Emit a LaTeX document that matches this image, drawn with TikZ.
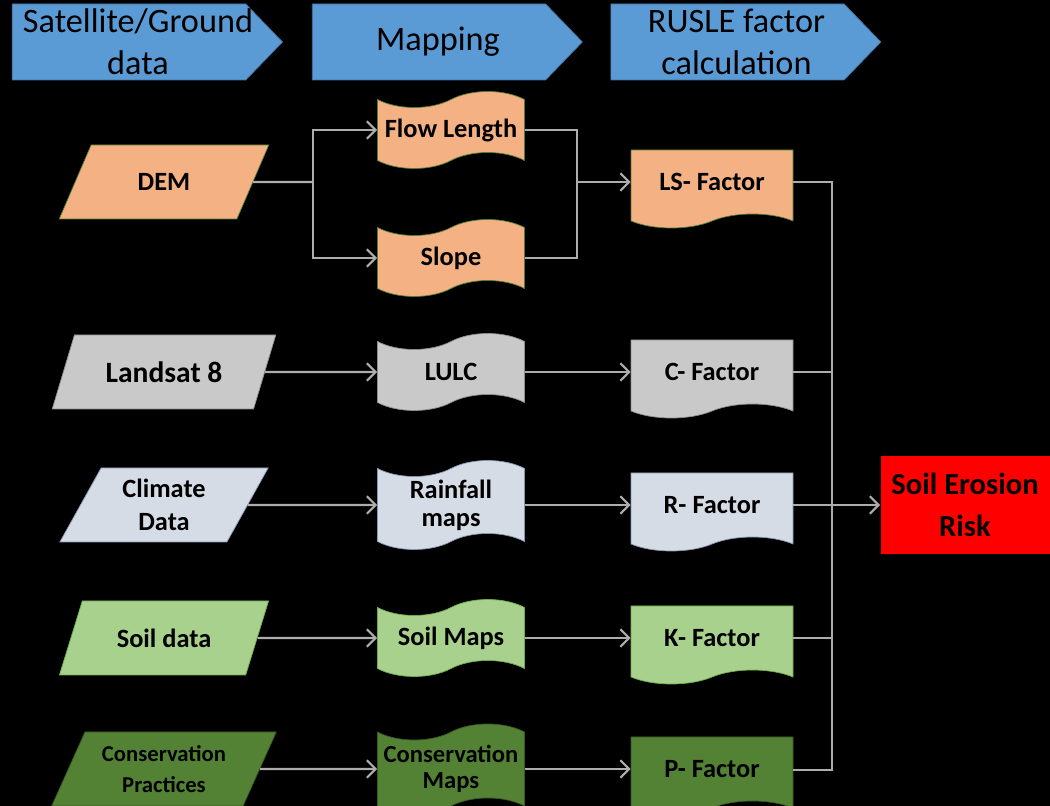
\documentclass[tikz,border=0pt]{standalone}
\usepackage{fontspec}
\setmainfont{Carlito}
\usetikzlibrary{shapes,arrows.meta}
\definecolor{hdrblue}{HTML}{5B9BD5}
\definecolor{hdrline}{HTML}{41719C}
\definecolor{orangefill}{HTML}{F4B183}
\definecolor{orangeline}{HTML}{507E32}
\definecolor{grayfill}{HTML}{C9C9C9}
\definecolor{grayline}{HTML}{8C8C8C}
\definecolor{bluefill}{HTML}{D6DCE5}
\definecolor{blueline}{HTML}{8497B0}
\definecolor{lgreenfill}{HTML}{A9D18E}
\definecolor{lgreenline}{HTML}{70AD47}
\definecolor{dgreenfill}{HTML}{548235}
\definecolor{dgreenline}{HTML}{385723}
\definecolor{linegray}{HTML}{ADADAD}
\newcommand{\hdrline}[1]{\hspace*{0.18cm}#1\hspace*{-0.18cm}}

\begin{document}
\begin{tikzpicture}
\tikzset{
header/.style={signal, signal to=east, signal pointer angle=92, fill=hdrblue, draw=hdrline, thin,
minimum width=5.4cm, minimum height=1.52cm, inner sep=1pt, align=center,
font=\fontsize{19.5}{24}\selectfont, node distance=6cm},
input/.style={trapezium, trapezium left angle=64, trapezium right angle=116, trapezium stretches=true,
minimum width=4.2cm, minimum height=1.48cm, align=center, font=\bfseries\fontsize{15}{19}\selectfont},
mapnode/.style={tape, tape bend height=0.32cm, minimum width=2.94cm, minimum height=1.54cm, inner sep=1pt,
align=center, font=\bfseries\fontsize{15}{16}\selectfont, node distance=5.74cm},
factor/.style={tape, tape bend top=none, tape bend bottom=in and out, tape bend height=0.28cm,
minimum width=3.24cm, minimum height=1.56cm, align=center, font=\bfseries\fontsize{15}{16}\selectfont,
node distance=5.22cm},
riskbox/.style={rectangle, fill=red, minimum width=3.38cm, minimum height=1.96cm, align=center,
font=\bfseries\fontsize{17.4}{24}\selectfont, node distance=5.06cm},
myline/.style={draw=linegray, line width=1.3pt},
myarrow/.style={myline, -{Straight Barb[length=5pt, width=10pt, line width=1.2pt]}},
}

\fill[black] (0,0) rectangle (21,-16.12);
\useasboundingbox (0,0) rectangle (21,-16.12);

% headers
\node [header] (hsat) at (2.58,-0.84) {\hdrline{Satellite/Ground}\\\hdrline{data}};
\node [header, right of=hsat] (hmap) {\hdrline{Mapping}};
\node [header, right of=hmap, node distance=5.97cm] (hrusle) {\hdrline{RUSLE factor}\\\hdrline{calculation}};

% input data
\node [input, fill=orangefill, draw=orangeline] (dem) at (3.28,-3.64) {DEM};
\node [input, fill=grayfill, draw=grayline, minimum width=4.5cm, font=\bfseries\fontsize{16.8}{19}\selectfont,
below of=dem, node distance=3.8cm] (landsat) {Landsat 8};
\node [input, fill=bluefill, draw=blueline, below of=landsat, node distance=2.66cm] (climate) {Climate\\Data};
\node [input, fill=lgreenfill, draw=lgreenline, below of=climate, node distance=2.66cm] (soil) {Soil data};
\node [input, fill=dgreenfill, draw=dgreenline, minimum width=4.5cm, font=\bfseries\fontsize{12.9}{17.5}\selectfont,
below of=soil, node distance=2.62cm] (conserv) {Conservation\\Practices};

% maps
\node [mapnode, fill=grayfill, draw=grayline, right of=landsat] (lulc) {LULC};
\node [mapnode, fill=orangefill, draw=orangeline, above of=lulc, node distance=2.28cm] (slope) {Slope};
\node [mapnode, fill=orangefill, draw=orangeline, above of=slope, node distance=2.56cm] (flowlen) {Flow Length};
\node [mapnode, fill=bluefill, draw=blueline, minimum height=1.78cm, right of=climate] (rainfall) {Rainfall\\maps};
\node [mapnode, fill=lgreenfill, draw=lgreenline, right of=soil] (soilmaps) {Soil Maps};
\node [mapnode, fill=dgreenfill, draw=dgreenline, minimum height=1.8cm, font=\bfseries\fontsize{14}{15}\selectfont,
right of=conserv] (conservmaps) {Conservation\\Maps};

% RUSLE factors
\node [factor, fill=orangefill, draw=orangeline, right of=dem, node distance=10.96cm] (lsfac) {LS- Factor};
\node [factor, fill=grayfill, draw=grayline, right of=lulc] (cfac) {C- Factor};
\node [factor, fill=bluefill, draw=blueline, right of=rainfall] (rfac) {R- Factor};
\node [factor, fill=lgreenfill, draw=lgreenline, right of=soilmaps] (kfac) {K- Factor};
\node [factor, fill=dgreenfill, draw=dgreenline, right of=conservmaps] (pfac) {P- Factor};

\node [riskbox, right of=rfac] (risk) {Soil Erosion\\Risk};

\coordinate (split) at (6.26,-3.64);
\coordinate (merge) at (11.54,-3.64);
\coordinate (busend) at (16.64,-15.4);

\draw[myline] (dem.east) -- (split);
\draw[myarrow] (split) |- (flowlen.west);
\draw[myarrow] (split) |- (slope.west);
\draw[myline] (flowlen.east) -| (merge);
\draw[myline] (slope.east) -| (merge);
\draw[myarrow] (merge) -- (lsfac.west);
\draw[myarrow] (landsat.east) -- (lulc.west);
\draw[myarrow] (climate.east) -- (rainfall.west);
\draw[myarrow] (soil.east) -- (soilmaps.west);
\draw[myarrow] (conserv.east) -- (conservmaps.west);
\draw[myarrow] (lulc.east) -- (cfac.west);
\draw[myarrow] (rainfall.east) -- (rfac.west);
\draw[myarrow] (soilmaps.east) -- (kfac.west);
\draw[myarrow] (conservmaps.east) -- (pfac.west);
\draw[myline] (lsfac.east) -| (busend) -- (busend -| pfac.east);
\draw[myline] (cfac.east) -- (cfac.east -| busend);
\draw[myline] (kfac.east) -- (kfac.east -| busend);
\draw[myarrow] (rfac.east) -- (risk.west);
\end{tikzpicture}
\end{document}
